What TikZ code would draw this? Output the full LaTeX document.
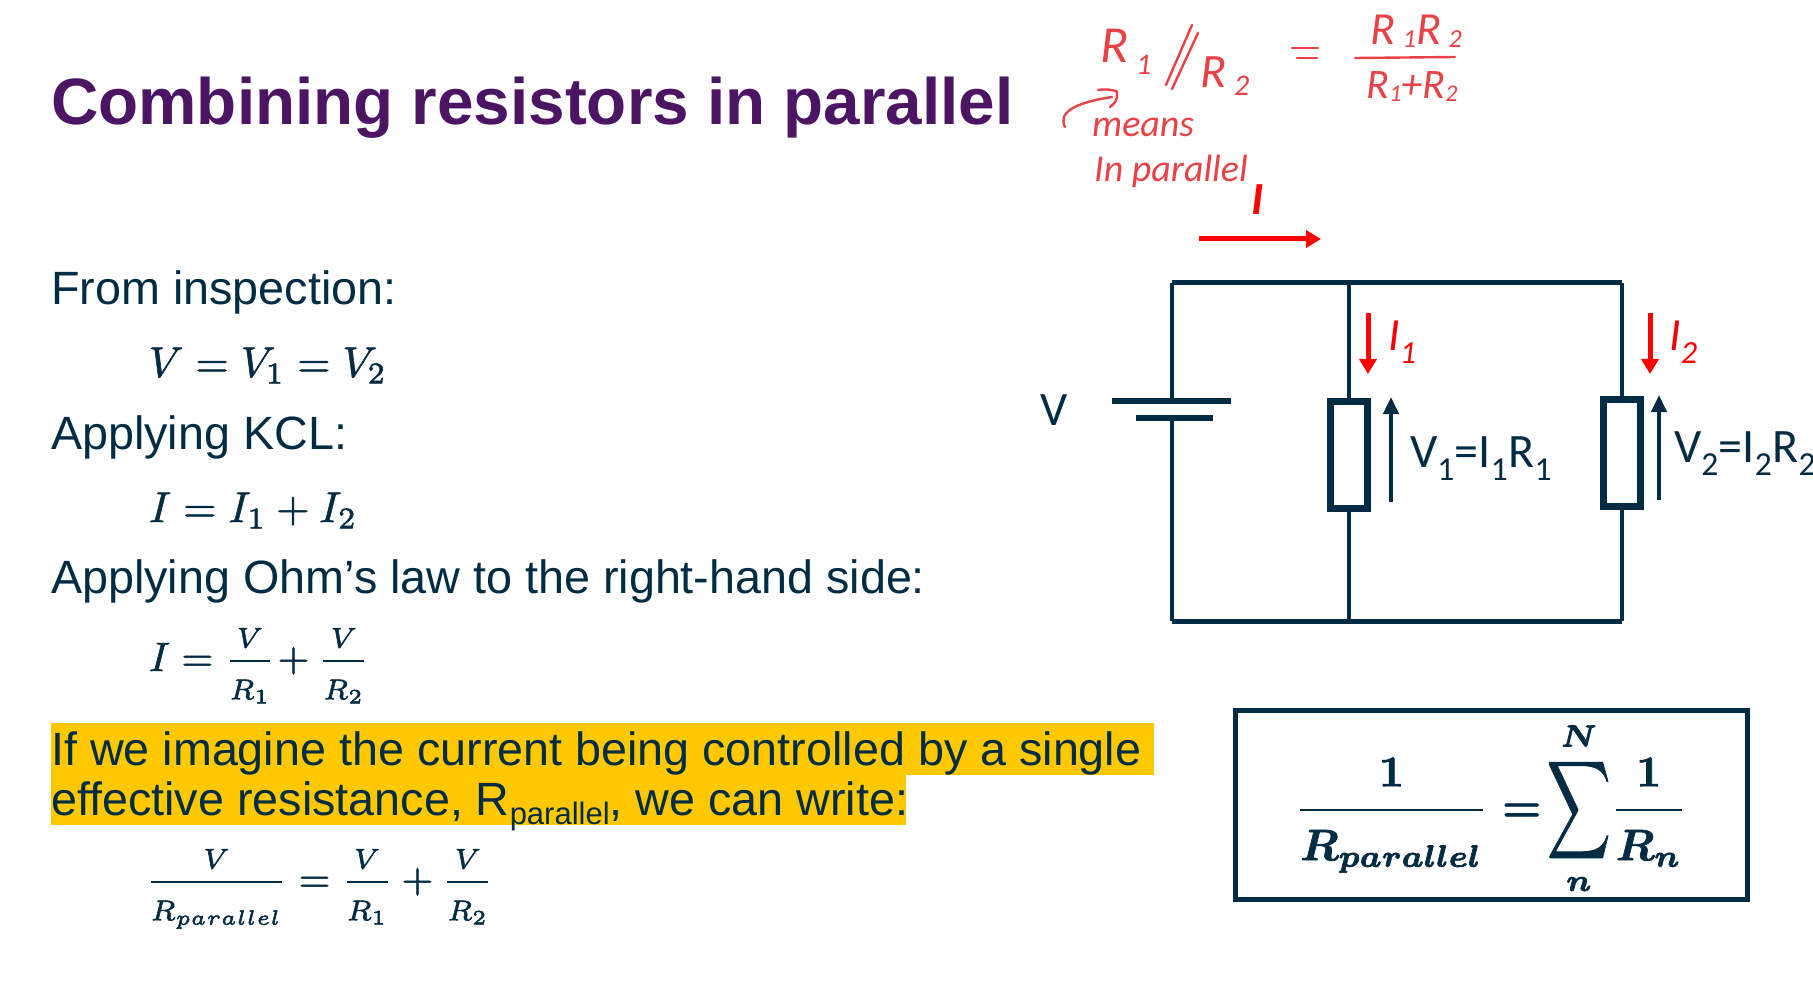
\documentclass[tikz,border=0pt]{standalone}
\usepackage{amsmath,amssymb,graphicx}
\usepackage{fontspec}
\setmainfont{Liberation Sans}
\newfontfamily\carl{Carlito}
\definecolor{navy}{RGB}{2,44,68}
\definecolor{plum}{RGB}{75,21,100}
\definecolor{hilite}{RGB}{255,200,0}
\definecolor{pen}{RGB}{232,66,70}
\newcommand{\inked}[2]{\special{pdf:code 2 Tr #1 w}#2\special{pdf:code 0 Tr}}
\newcommand{\mfrac}[2]{\frac{#1\rule[-2.6pt]{0pt}{0pt}}{\rule{0pt}{8.8pt}#2}}
\newcommand{\bigsum}{\mathop{\vcenter{\hbox{\scalebox{1}[1.55]{$\displaystyle\sum$}}}}\limits}
\newcommand{\subtxt}[1]{\raisebox{-.2em}{\fontsize{31}{31}\selectfont #1}}
\usetikzlibrary{arrows.meta}
\tikzset{
  body/.style={anchor=base west,inner sep=0pt,text=navy,font=\fontsize{46.7}{50}\selectfont},
  eqn/.style={anchor=base west,inner sep=0pt,text=navy,scale=4.3},
  eqnb/.style={anchor=base west,inner sep=0pt,text=navy,scale=4.1},
  wire/.style={draw=navy,line width=4pt},
  busbar/.style={draw=navy,line width=5pt},
  plate/.style={draw=navy,line width=6pt},
  resistor/.style={draw=navy,line width=7pt,fill=white,minimum width=37pt,minimum height=107pt,inner sep=0pt},
  redarrow/.style={draw=red,line width=5pt,-{Triangle[length=15pt,width=17pt]}},
  voltarrow/.style={draw=navy,line width=4pt,-{Triangle[length=17pt,width=15pt]}},
  clabel/.style={anchor=base west,inner sep=0pt,text=navy,font=\carl\fontsize{48}{50}\selectfont},
  ilabel/.style={anchor=base west,inner sep=0pt,text=red,font=\carl\itshape\fontsize{46}{50}\selectfont},
  hand/.style={inner sep=0pt,text=pen,font=\carl\itshape},
  handline/.style={draw=pen,line width=2.4pt,line cap=round,line join=round},
}
\begin{document}
\begin{tikzpicture}[x=1pt,y=-1pt]
\clip (0,0) rectangle (1813,1000);
\fill[white] (0,0) rectangle (1813,1000);
% title
\node[anchor=base west,inner sep=0pt,text=plum,font=\bfseries\fontsize{65.6}{70}\selectfont] (title) at (51,125) {Combining resistors in parallel};
% highlight
\fill[hilite] (51,723) rectangle (1154,775);
\fill[hilite] (51,775) rectangle (906,825);
% body text
\node[body] (t1) at (51,305) {From inspection:};
\node[body] (t2) at (51,449) {Applying KCL:};
\node[body] (t3) at (51,593) {Applying Ohm’s law to the right-hand side:};
\node[body] (t4) at (51,765) {If we imagine the current being controlled by a single};
\node[body] (t5) at (51,815) {effective resistance, R\subtxt{parallel}, we can write:};
% equations
\node[eqn] (e1) at (148,377) {\inked{.13}{$V=V_1=V_2$}};
\node[eqn] (e2) at (148,522) {\inked{.13}{$I=I_1+I_2$}};
\node[eqnb] (e3) at (148,671) {\inked{.13}{$I=\mfrac{V}{R_1}\!+\mfrac{V}{R_2}$}};
\node[eqnb] (e4) at (145,892) {\inked{.13}{$\mfrac{V}{R_{parallel}}=\mfrac{V}{R_1}+\mfrac{V}{R_2}$}};
% circuit
\coordinate (tl) at (1172,283);
\coordinate (tm) at (1349,283);
\coordinate (tr) at (1622,283);
\coordinate (bl) at (1172,621);
\coordinate (bm) at (1349,621);
\coordinate (br) at (1622,621);
\coordinate (pa) at (1112,401);
\coordinate (pb) at (1231,401);
\coordinate (pc) at (1136,418);
\coordinate (pd) at (1213,418);
\coordinate (pm) at (1172,401);
\coordinate (pn) at (1172,418);
\node[resistor] (r1) at (1349,455) {};
\node[resistor] (r2) at (1622,453) {};
\draw[busbar] (tl) -- (tr);
\draw[busbar] (bl) -- (br);
\draw[wire] (tl) -- (pm);
\draw[wire] (pn) -- (bl);
\draw[plate] (pa) -- (pb);
\draw[plate] (pc) -- (pd);
\draw[wire] (tm) -- (r1.north);
\draw[wire] (r1.south) -- (bm);
\draw[wire] (tr) -- (r2.north);
\draw[wire] (r2.south) -- (br);
% arrows
\coordinate (ia) at (1199,239);
\coordinate (ib) at (1321,239);
\draw[redarrow] (ia) -- (ib);
\coordinate (i1a) at (1368,313);
\coordinate (i1b) at (1368,374);
\draw[redarrow] (i1a) -- (i1b);
\coordinate (i2a) at (1650,313);
\coordinate (i2b) at (1650,374);
\draw[redarrow] (i2a) -- (i2b);
\coordinate (v1a) at (1391,502);
\coordinate (v1b) at (1391,397);
\draw[voltarrow] (v1a) -- (v1b);
\coordinate (v2a) at (1659,500);
\coordinate (v2b) at (1659,395);
\draw[voltarrow] (v2a) -- (v2b);
% circuit labels
\node[clabel] (lv) at (1040,425) {V};
\node[clabel] (lv1) at (1410,467) {V\textsubscript{1}=I\textsubscript{1}R\textsubscript{1}};
\node[clabel] (lv2) at (1674,462) {V\textsubscript{2}=I\textsubscript{2}R\textsubscript{2}};
\node[ilabel,font=\carl\itshape\bfseries\fontsize{46}{50}\selectfont] (li) at (1251,215) {I};
\node[ilabel] (li1) at (1388,351) {I\textsubscript{1}};
\node[ilabel] (li2) at (1669,351) {I\textsubscript{2}};
% result box
\node[draw=navy,line width=5pt,minimum width=512pt,minimum height=189pt,inner sep=0pt] (box) at (1491,804.5) {};
\node[anchor=base west,inner sep=0pt,text=navy,scale=4.4,font=\boldmath] (res) at (1294,821) {\inked{.15}{$\displaystyle\frac{1\rule[-4pt]{0pt}{0pt}}{\rule{0pt}{10pt}R_{parallel}}=\!\bigsum_{n}^{N}\!\frac{1\rule[-4pt]{0pt}{0pt}}{\rule{0pt}{10pt}R_n}$}};
% handwritten notes
\node[hand,font=\carl\itshape\fontsize{52}{52}\selectfont,anchor=base west] (h1) at (1100,63) {R};
\node[hand,font=\carl\itshape\fontsize{30}{30}\selectfont,anchor=base west] (h2) at (1136,75) {1};
\node[hand,font=\carl\itshape\fontsize{48}{48}\selectfont,anchor=base west] (h3) at (1200,88) {R};
\node[hand,font=\carl\itshape\fontsize{30}{30}\selectfont,anchor=base west] (h4) at (1234,96) {2};
\node[hand,font=\carl\itshape\fontsize{46}{46}\selectfont,anchor=base] (h5) at (1416,45) {R\,\raisebox{-3pt}{\fontsize{26}{26}\selectfont 1}R\,\raisebox{-3pt}{\fontsize{26}{26}\selectfont 2}};
\node[hand,font=\carl\itshape\fontsize{42}{42}\selectfont,anchor=base] (h6) at (1412,99) {R\raisebox{-3pt}{\fontsize{24}{24}\selectfont 1}+R\raisebox{-3pt}{\fontsize{24}{24}\selectfont 2}};
\node[hand,font=\carl\itshape\fontsize{38}{38}\selectfont,anchor=base west] (h7) at (1092,137) {means};
\node[hand,font=\carl\itshape\fontsize{38}{38}\selectfont,anchor=base west] (h8) at (1094,182) {In parallel};
\coordinate (s1a) at (1192,25); \coordinate (s1b) at (1166,85);
\coordinate (s2a) at (1198,33); \coordinate (s2b) at (1172,89);
\draw[handline] (s1a) -- (s1b);
\draw[handline] (s2a) -- (s2b);
\coordinate (q1a) at (1292,48); \coordinate (q1b) at (1318,48);
\coordinate (q2a) at (1297,58); \coordinate (q2b) at (1317,58);
\draw[handline] (q1a) -- (q1b);
\draw[handline] (q2a) -- (q2b);
\coordinate (f1a) at (1355,58); \coordinate (f1b) at (1455,57);
\draw[handline] (f1a) -- (f1b);
\coordinate (c0) at (1065,127); \coordinate (c1) at (1112,97);
\coordinate (c2) at (1098,90); \coordinate (c3) at (1117,93); \coordinate (c4) at (1110,107);
\draw[handline] (c0) .. controls (1058,113) and (1073,103) .. (c1);
\draw[handline] (c2) .. controls (1110,88) and (1120,92) .. (c3) .. controls (1118,100) and (1114,104) .. (c4);
\end{tikzpicture}
\end{document}
